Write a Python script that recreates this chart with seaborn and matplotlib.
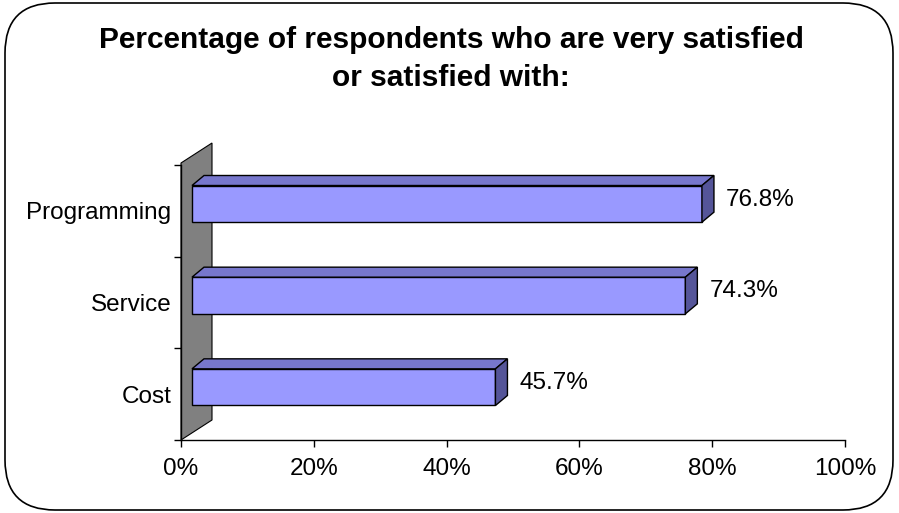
import numpy as np
import pandas as pd
import matplotlib.pyplot as plt
from matplotlib.patches import Polygon, FancyBboxPatch
import seaborn as sns

CATEGORIES = ['Programming', 'Service', 'Cost']
SATISFIED_PCT = [76.8, 74.3, 45.7]
X_TICKS = [0, 20, 40, 60, 80, 100]
TITLE = 'Percentage of respondents who are very satisfied\nor satisfied with:'

FRONT = '#9999FF'
TOP = '#7777CC'
SIDE = '#555599'
WALL = '#808080'

W, H = 899, 513
# plot area in pixels (left, top, right, bottom)
AX_L, AX_T, AX_R, AX_B = 181, 165, 845, 440

sns.set_style('white')
plt.rcParams['font.family'] = ['Liberation Sans', 'DejaVu Sans']
plt.rcParams['text.color'] = 'black'
plt.rcParams['xtick.color'] = 'black'
plt.rcParams['ytick.color'] = 'black'

df = pd.DataFrame({'category': CATEGORIES, 'pct': SATISFIED_PCT})

fig = plt.figure(figsize=(W / 100, H / 100), dpi=100)
ax = fig.add_axes([AX_L / W, 1 - AX_B / H, (AX_R - AX_L) / W, (AX_B - AX_T) / H])

sns.barplot(data=df, x='pct', y='category', orient='h', color=FRONT, saturation=1,
            width=0.4, edgecolor='black', linewidth=1, ax=ax, zorder=3)

ax.set_xlim(0, 100)
ax.set_ylim(len(CATEGORIES) - 0.5, -0.5)

# pixel -> data unit helpers
px_x = 100 / (AX_R - AX_L)
px_y = len(CATEGORIES) / (AX_B - AX_T)

# gray back wall (3D look)
wall_dx, wall_dy = 31 * px_x, 20 * px_y
y_bot, y_top = len(CATEGORIES) - 0.5, -0.5 - 2 * px_y
wall = Polygon([(0, y_bot), (wall_dx, y_bot - wall_dy), (wall_dx, y_top - wall_dy), (0, y_top)],
               closed=True, facecolor=WALL, edgecolor='black', linewidth=0.8,
               clip_on=False, zorder=1)
ax.add_patch(wall)

# shift front faces and add top / side faces
x_off, y_off = 11 * px_x, -7 * px_y
dx, dy = 12 * px_x, 10 * px_y
for p, v in zip(ax.patches[:len(CATEGORIES)], SATISFIED_PCT):
    p.set_x(p.get_x() + x_off)
    p.set_y(p.get_y() + y_off)
    x0, x1 = p.get_x(), p.get_x() + p.get_width()
    yt, yb = p.get_y(), p.get_y() + p.get_height()
    top = Polygon([(x0, yt), (x0 + dx, yt - dy), (x1 + dx, yt - dy), (x1, yt)],
                  closed=True, facecolor=TOP, edgecolor='black', linewidth=1,
                  clip_on=False, zorder=3)
    side = Polygon([(x1, yt), (x1 + dx, yt - dy), (x1 + dx, yb - dy), (x1, yb)],
                   closed=True, facecolor=SIDE, edgecolor='black', linewidth=1,
                   clip_on=False, zorder=3)
    ax.add_patch(top)
    ax.add_patch(side)
    ax.text(x1 + dx + 12 * px_x, (yt + yb) / 2 - 4 * px_y, f'{v}%',
            ha='left', va='center', fontsize=17.5)

# axes styling
for s in ['top', 'right']:
    ax.spines[s].set_visible(False)
for s in ['left', 'bottom']:
    ax.spines[s].set_color('black')
    ax.spines[s].set_linewidth(1)

ax.set_xticks(X_TICKS)
ax.set_xticklabels([f'{t}%' for t in X_TICKS], fontsize=17.5)
ax.tick_params(axis='x', direction='out', length=5, width=1, pad=8, bottom=True)
ax.set_yticks(range(len(CATEGORIES)))
ax.set_yticklabels(CATEGORIES, fontsize=17.5)
ax.set_yticks(np.arange(-0.5, len(CATEGORIES)), minor=True)
ax.tick_params(axis='y', which='major', length=0, pad=7)
ax.tick_params(axis='y', which='minor', direction='out', length=5, width=1, left=True)
ax.set_xlabel('')
ax.set_ylabel('')
ax.grid(False)

fig.text(451 / W, 1 - 26 / H, TITLE, ha='center', va='top', fontsize=21.5,
         fontweight='bold', linespacing=1.45)

# rounded outer border
border = FancyBboxPatch((5 / 100, 3 / 100), 888 / 100, 507 / 100,
                        boxstyle='round,pad=0,rounding_size=0.5',
                        transform=fig.dpi_scale_trans, facecolor='none',
                        edgecolor='black', linewidth=1.2)
fig.add_artist(border)

fig.savefig('out.png', dpi=100)
